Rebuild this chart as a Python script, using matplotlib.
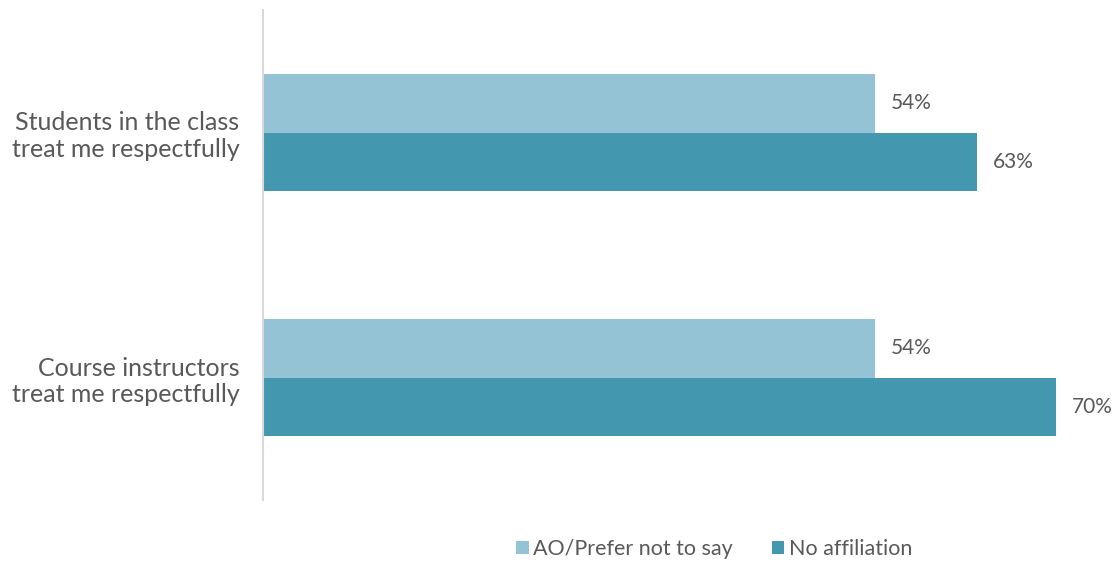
import matplotlib
matplotlib.use("Agg")
import matplotlib.pyplot as plt
import numpy as np

plt.rcParams['font.family'] = ['Lato', 'DejaVu Sans']

categories = ["Students in the class\ntreat me respectfully",
              "Course instructors\ntreat me respectfully"]
series_names = ["AO/Prefer not to say", "No affiliation"]
ao_values = [54, 54]
no_aff_values = [63, 70]
colors = ["#93C3D4", "#4397AF"]
text_color = "#595959"

fig = plt.figure(figsize=(11.17, 5.64), dpi=100)
ax = fig.add_axes([263/1117, 1 - 500/564, (1100 - 263)/1117, 490/564])

y = np.arange(len(categories))
h = 0.238
b1 = ax.barh(y - h/2, ao_values, height=h, color=colors[0], label=series_names[0])
b2 = ax.barh(y + h/2, no_aff_values, height=h, color=colors[1], label=series_names[1])

for bars, vals in ((b1, ao_values), (b2, no_aff_values)):
    for bar, v in zip(bars, vals):
        ax.annotate(f"{v}%", (bar.get_width(), bar.get_y() + bar.get_height()/2),
                    xytext=(16, 0), textcoords="offset pixels",
                    va="center", ha="left", fontsize=15, color=text_color)

ax.set_ylim(-0.5, 1.5)
ax.invert_yaxis()
ax.set_xlim(0, (1100 - 263) / 11.33)
ax.set_yticks(y)
ax.set_yticklabels(categories, fontsize=18, color=text_color, linespacing=1.2)
ax.tick_params(axis="y", length=0, pad=17)
ax.set_xticks([])
for s in ("top", "right", "bottom"):
    ax.spines[s].set_visible(False)
ax.spines["left"].set_color("#D9D9D9")
ax.spines["left"].set_linewidth(1.5)

fig.legend(loc="center", bbox_to_anchor=(714/1117, 1 - 549/564), ncol=2, frameon=False,
           fontsize=15.5, labelcolor=text_color, handlelength=0.6, handleheight=0.6,
           handletextpad=0.2, columnspacing=1.8)

fig.savefig("out.png", dpi=100)
